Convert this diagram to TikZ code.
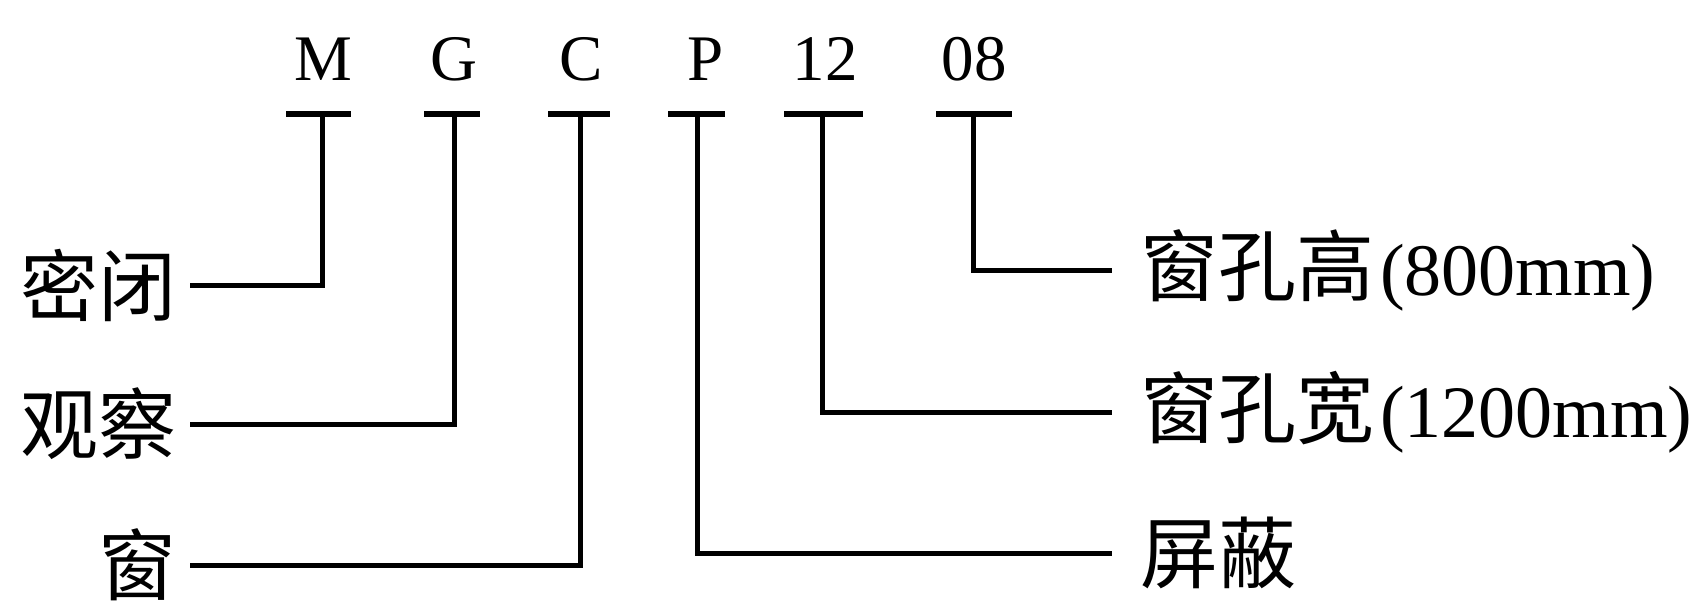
\documentclass[tikz,border=0pt]{standalone}
\usepackage{fontspec}
\setmainfont{Liberation Serif}
\newfontfamily\cjk{Noto Sans CJK SC}
\usetikzlibrary{positioning}
\newcommand\latin{\hspace{6pt}\fontsize{74}{80}\selectfont\rmfamily}

\begin{document}
\begin{tikzpicture}[x=1pt, y=-1pt]
    \tikzset{code/.style={anchor=base, inner sep=0pt, font=\fontsize{65}{65}\selectfont},
        tag/.style={inner sep=0pt, font=\fontsize{78}{80}\selectfont\cjk},
        bar/.style={line width=6pt},
        lead/.style={line width=5pt}
    }
    \useasboundingbox (0,0) rectangle (1703,602);

    \foreach \name / \txt / \x / \l / \r / \v in {M/M/323/286/351/322, G/G/454/424/480/454, C/C/581/548/610/580, P/P/706/668/725/697, W/12/825/784/863/822, H/08/974/936/1012/973} {
        \node (code-\name) [code] at (\x, 81) {\txt};
        \draw [bar] (\l, 114) -- (\r, 114);
        \coordinate (tick-\name) at (\v, 114);
    }

    % left side
    \node (seal) [tag, anchor=east] at (177, 285) {密闭};
    \node (view) [tag, anchor=east] at (177, 424) {观察};
    \node (window) [tag, anchor=east] at (177, 565) {窗};

    % right side
    \node (height) [tag, anchor=west] at (1140, 270) {窗孔高\latin(800mm)};
    \node (width) [tag, anchor=west] at (1140, 412) {窗孔宽\latin(1200mm)};
    \node (shield) [tag, anchor=west] at (1140, 553) {屏蔽};

    \draw [lead] (tick-M) |- ([xshift=13pt]seal.east);
    \draw [lead] (tick-G) |- ([xshift=13pt]view.east);
    \draw [lead] (tick-C) |- ([xshift=13pt]window.east);
    \draw [lead] (tick-P) |- ([xshift=-28pt]shield.west);
    \draw [lead] (tick-W) |- ([xshift=-28pt]width.west);
    \draw [lead] (tick-H) |- ([xshift=-28pt]height.west);
\end{tikzpicture}
\end{document}
